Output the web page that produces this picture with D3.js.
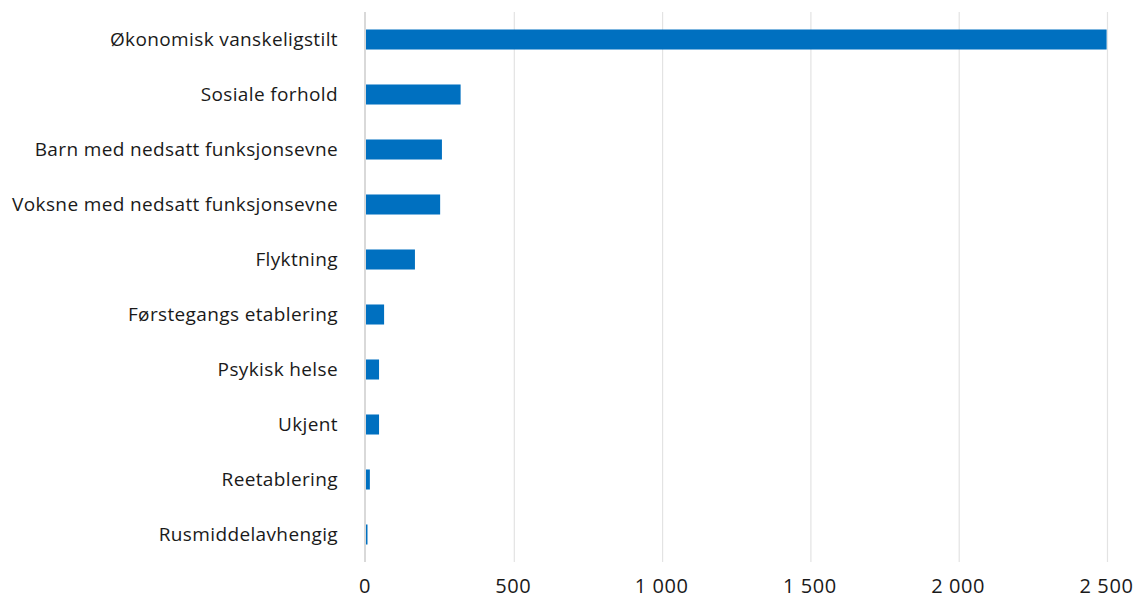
<!DOCTYPE html>
<html><head><meta charset="utf-8">
<script src="https://cdn.jsdelivr.net/npm/d3@7"></script>
<style>body{margin:0;background:#fff}svg{display:block}text{font-family:"Open Sans",sans-serif;fill:#1a1a1a}</style>
</head><body><svg id="c" width="1140" height="599"></svg>
<script>
const categories = ["Økonomisk vanskeligstilt","Sosiale forhold","Barn med nedsatt funksjonsevne","Voksne med nedsatt funksjonsevne","Flyktning","Førstegangs etablering","Psykisk helse","Ukjent","Reetablering","Rusmiddelavhengig"];
const values = [2497,319,256,250,165,61,44,44,13,5];
const ticks = [0,500,1000,1500,2000,2500];
const tickLabels = ["0","500","1 000","1 500","2 000","2 500"];

const svg = d3.select("#c");
const m = {left:366, right:1107.5, top:12, bottom:562};
const x = d3.scaleLinear().domain([0,2500]).range([m.left, m.right]);
const y = d3.scaleBand().domain(categories).range([m.top, m.bottom]).paddingInner(0.636).paddingOuter(0.318);

svg.append("g").selectAll("line").data(ticks.slice(1)).join("line")
  .attr("x1", d=>x(d)).attr("x2", d=>x(d)).attr("y1", m.top).attr("y2", m.bottom)
  .attr("stroke","#e3e3e3").attr("stroke-width",1.2);

svg.append("g").selectAll("rect").data(values).join("rect")
  .attr("x", x(0)).attr("y", (d,i)=>y(categories[i]))
  .attr("width", d=>x(d)-x(0)).attr("height", y.bandwidth())
  .attr("fill","#0070c0");

svg.append("line").attr("x1",x(0)-1).attr("x2",x(0)-1).attr("y1",m.top).attr("y2",m.bottom)
  .attr("stroke","#d9d9d9").attr("stroke-width",2);

svg.append("g").selectAll("text").data(categories).join("text")
  .attr("x", 338).attr("y", d=>y(d)+y.bandwidth()/2).attr("dy","0.35em")
  .attr("text-anchor","end").attr("font-size",19).attr("letter-spacing","0.37px").text(d=>d);

svg.append("g").selectAll("text").data(ticks).join("text")
  .attr("x", d=>x(d)-1).attr("y", 593)
  .attr("text-anchor","middle").attr("font-size",20).attr("letter-spacing","0.6px").text((d,i)=>tickLabels[i]);
</script></body></html>
